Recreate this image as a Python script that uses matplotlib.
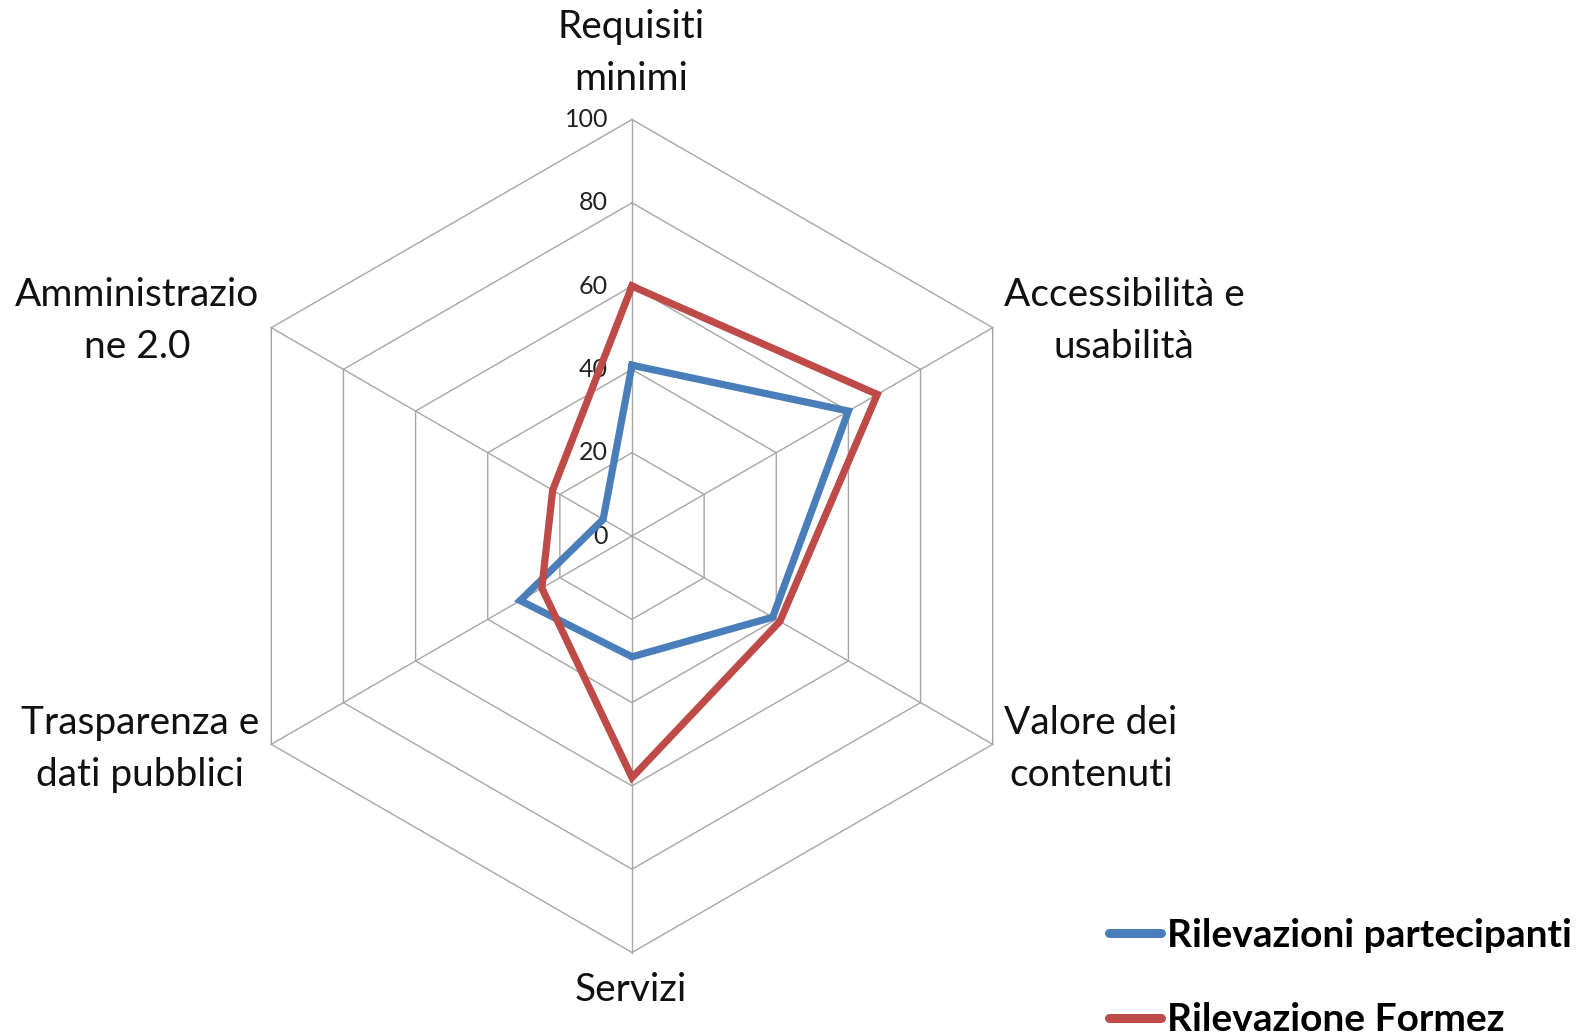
import numpy as np
import matplotlib
matplotlib.use('Agg')
import matplotlib.pyplot as plt
from matplotlib.transforms import offset_copy

plt.rcParams['font.family'] = ['Lato', 'DejaVu Sans']

categories = ['Requisiti\nminimi', 'Accessibilità e\nusabilità', 'Valore dei\ncontenuti',
              'Servizi', 'Trasparenza e\ndati pubblici', 'Amministrazio\nne 2.0']
partecipanti = [41, 60, 39, 29, 31, 8]
formez = [60, 68, 41, 58, 25, 22]
levels = [0, 20, 40, 60, 80, 100]
series_names = ['Rilevazioni partecipanti', 'Rilevazione Formez']

# where the category labels sit (pixels, centre of the text block)
label_xy = [(631, 53), (1124, 321), (1091, 749), (631, 990), (140, 749), (137, 321)]

W, H = 1588, 1035
fig = plt.figure(figsize=(W / 100, H / 100), dpi=100)
cx, cy, R = 632, 536, 416.5
ax = fig.add_axes([(cx - R) / W, (H - cy - R) / H, 2 * R / W, 2 * R / H], projection='polar')
ax.set_theta_zero_location('N')
ax.set_theta_direction(-1)
ax.set_ylim(0, 100)
ax.grid(False)
ax.spines['polar'].set_visible(False)
ax.set_xticks([])
ax.set_yticks([])
ax.patch.set_alpha(0)

n = len(categories)
ang = np.arange(n) * 2 * np.pi / n
ang_c = np.append(ang, ang[0])

grid_col = '#a6a6a6'
for v in levels[1:]:
    ax.plot(ang_c, [v] * (n + 1), color=grid_col, lw=1, clip_on=False, zorder=1)
for a in ang:
    ax.plot([a, a], [0, 100], color=grid_col, lw=1, clip_on=False, zorder=1)

tr = offset_copy(ax.transData, fig=fig, x=-24, y=0, units='dots')
for v in levels:
    ax.text(0, v, str(v), transform=tr, ha='right', va='center', fontsize=18, color='#222222')

ax.plot(ang_c, partecipanti + partecipanti[:1], color='#4A7EBB', lw=5.2,
        solid_joinstyle='miter', clip_on=False, zorder=3, label=series_names[0])
ax.plot(ang_c, formez + formez[:1], color='#BE4B48', lw=5.2,
        solid_joinstyle='miter', clip_on=False, zorder=3, label=series_names[1])

for lab, (x, y) in zip(categories, label_xy):
    fig.text(x / W, 1 - y / H, lab, ha='center', va='center', fontsize=28,
             linespacing=1.55, color='#111111')

leg = fig.legend(loc='upper left', bbox_to_anchor=(1093 / W, 1 - 902 / H), frameon=False,
                 prop={'weight': 'bold', 'size': 28}, handlelength=1.35, handletextpad=0.15,
                 labelspacing=1.28, borderaxespad=0)
for line in leg.get_lines():
    line.set_linewidth(6.5)
    line.set_solid_capstyle('round')

fig.savefig('out.png', dpi=100)
